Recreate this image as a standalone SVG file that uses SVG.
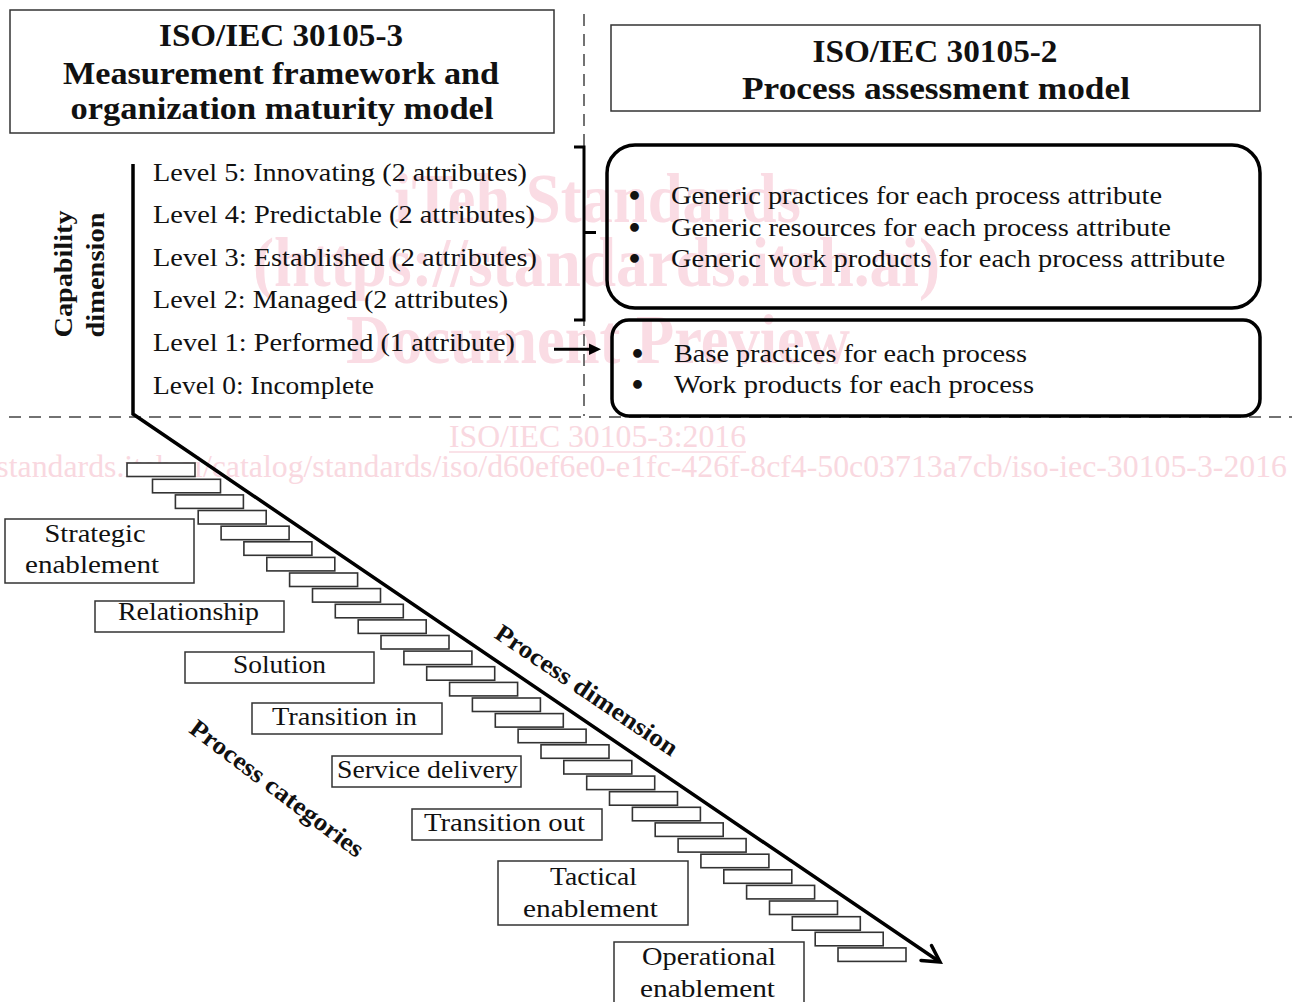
<svg xmlns="http://www.w3.org/2000/svg" width="1292" height="1002" viewBox="0 0 1292 1002">
<style>
  text { font-family: 'Liberation Serif', 'Times New Roman', serif; fill: #111; }
  .title { font-size: 31px; font-weight: bold; text-anchor: middle; }
  .lvl { font-size: 24.5px; }
  .bul { font-size: 25px; }
  .dot { font-family: 'DejaVu Sans', sans-serif; font-size: 25px; font-weight: bold; }
  .cat { font-size: 24.5px; text-anchor: middle; }
  .bold { font-size: 25px; font-weight: bold; text-anchor: middle; }
  .tbox { fill: #fff; stroke: #333; stroke-width: 1.5; }
  .rbox { fill: none; stroke: #000; stroke-width: 3.5; }
  .step { fill: #fff; stroke: #333; stroke-width: 1.6; }
  .cbox { fill: #fff; stroke: #333; stroke-width: 1.5; }
  .dash { fill: none; stroke: #444; stroke-width: 1.5; stroke-dasharray: 12 8; }
  .wm { fill: #fadce4; font-weight: bold; font-size: 70px; }
  .wm2 { fill: #f9d8e0; font-size: 31px; }
</style>

<g id="watermark">
  <text class="wm" x="394" y="222" textLength="407" lengthAdjust="spacingAndGlyphs">iTeh Standards</text>
  <text class="wm" x="253" y="286" textLength="687" lengthAdjust="spacingAndGlyphs">(https://standards.iteh.ai)</text>
  <text class="wm" x="346" y="363" textLength="504" lengthAdjust="spacingAndGlyphs">Document Preview</text>
  <text class="wm2" x="449" y="447" textLength="297" lengthAdjust="spacingAndGlyphs">ISO/IEC 30105-3:2016</text>
  <line x1="449" y1="452" x2="746" y2="452" stroke="#f9d8e0" stroke-width="1.5"/>
  <text class="wm2" x="-92" y="477" textLength="1379" lengthAdjust="spacingAndGlyphs">https://standards.iteh.ai/catalog/standards/iso/d60ef6e0-e1fc-426f-8cf4-50c03713a7cb/iso-iec-30105-3-2016</text>
</g>

<g id="separators">
  <line class="dash" x1="584" y1="14" x2="584" y2="416"/>
  <line class="dash" x1="9" y1="417" x2="1292" y2="417"/>
</g>

<g id="title-30105-3">
  <rect class="tbox" x="10" y="10" width="544" height="123"/>
  <text class="title" x="281" y="46" textLength="244" lengthAdjust="spacingAndGlyphs">ISO/IEC 30105-3</text>
  <text class="title" x="281" y="84" textLength="436" lengthAdjust="spacingAndGlyphs">Measurement framework and</text>
  <text class="title" x="282" y="119" textLength="423" lengthAdjust="spacingAndGlyphs">organization maturity model</text>
</g>

<g id="title-30105-2">
  <rect class="tbox" x="611" y="25" width="649" height="86"/>
  <text class="title" x="935" y="62" textLength="245" lengthAdjust="spacingAndGlyphs">ISO/IEC 30105-2</text>
  <text class="title" x="936" y="99" textLength="388" lengthAdjust="spacingAndGlyphs">Process assessment model</text>
</g>

<g id="capability-label">
  <text class="bold" transform="translate(72,274) rotate(-90)" textLength="127" lengthAdjust="spacingAndGlyphs">Capability</text>
  <text class="bold" transform="translate(104,275) rotate(-90)" textLength="125" lengthAdjust="spacingAndGlyphs">dimension</text>
</g>

<g id="levels">
  <text class="lvl" x="153" y="181" textLength="374" lengthAdjust="spacingAndGlyphs">Level 5: Innovating (2 attributes)</text>
  <text class="lvl" x="153" y="223" textLength="382" lengthAdjust="spacingAndGlyphs">Level 4: Predictable (2 attributes)</text>
  <text class="lvl" x="153" y="266" textLength="384" lengthAdjust="spacingAndGlyphs">Level 3: Established (2 attributes)</text>
  <text class="lvl" x="153" y="308" textLength="355" lengthAdjust="spacingAndGlyphs">Level 2: Managed (2 attributes)</text>
  <text class="lvl" x="153" y="351" textLength="362" lengthAdjust="spacingAndGlyphs">Level 1: Performed (1 attribute)</text>
  <text class="lvl" x="153" y="394" textLength="221" lengthAdjust="spacingAndGlyphs">Level 0: Incomplete</text>
</g>

<g id="generic-box">
  <rect class="rbox" x="607" y="145" width="653" height="163" rx="28" ry="28"/>
  <text class="dot" x="626.5" y="205">•</text>
  <text class="dot" x="626.5" y="237">•</text>
  <text class="dot" x="626.5" y="268">•</text>
  <text class="bul" x="671" y="204" textLength="491" lengthAdjust="spacingAndGlyphs">Generic practices for each process attribute</text>
  <text class="bul" x="671" y="236" textLength="500" lengthAdjust="spacingAndGlyphs">Generic resources for each process attribute</text>
  <text class="bul" x="671" y="267" textLength="554" lengthAdjust="spacingAndGlyphs">Generic work products for each process attribute</text>
</g>

<g id="base-box">
  <rect class="rbox" x="612" y="320" width="648" height="96" rx="17" ry="17"/>
  <text class="dot" x="629.5" y="363">•</text>
  <text class="dot" x="629.5" y="394">•</text>
  <text class="bul" x="674" y="362" textLength="353" lengthAdjust="spacingAndGlyphs">Base practices for each process</text>
  <text class="bul" x="674" y="393" textLength="360" lengthAdjust="spacingAndGlyphs">Work products for each process</text>
</g>

<g id="steps">
  <rect class="step" x="127" y="463" width="68" height="13.5"/>
  <rect class="step" x="152.5" y="479.3" width="68" height="13.5"/>
  <rect class="step" x="175.4" y="494.9" width="68" height="13.5"/>
  <rect class="step" x="198.2" y="510.5" width="68" height="13.5"/>
  <rect class="step" x="221.1" y="526.2" width="68" height="13.5"/>
  <rect class="step" x="243.9" y="541.8" width="68" height="13.5"/>
  <rect class="step" x="266.8" y="557.4" width="68" height="13.5"/>
  <rect class="step" x="289.6" y="573.0" width="68" height="13.5"/>
  <rect class="step" x="312.5" y="588.6" width="68" height="13.5"/>
  <rect class="step" x="335.3" y="604.3" width="68" height="13.5"/>
  <rect class="step" x="358.2" y="619.9" width="68" height="13.5"/>
  <rect class="step" x="381.0" y="635.5" width="68" height="13.5"/>
  <rect class="step" x="403.9" y="651.1" width="68" height="13.5"/>
  <rect class="step" x="426.7" y="666.7" width="68" height="13.5"/>
  <rect class="step" x="449.6" y="682.4" width="68" height="13.5"/>
  <rect class="step" x="472.4" y="698.0" width="68" height="13.5"/>
  <rect class="step" x="495.3" y="713.6" width="68" height="13.5"/>
  <rect class="step" x="518.1" y="729.2" width="68" height="13.5"/>
  <rect class="step" x="541.0" y="744.8" width="68" height="13.5"/>
  <rect class="step" x="563.8" y="760.5" width="68" height="13.5"/>
  <rect class="step" x="586.7" y="776.1" width="68" height="13.5"/>
  <rect class="step" x="609.5" y="791.7" width="68" height="13.5"/>
  <rect class="step" x="632.4" y="807.3" width="68" height="13.5"/>
  <rect class="step" x="655.2" y="822.9" width="68" height="13.5"/>
  <rect class="step" x="678.1" y="838.6" width="68" height="13.5"/>
  <rect class="step" x="700.9" y="854.2" width="68" height="13.5"/>
  <rect class="step" x="723.8" y="869.8" width="68" height="13.5"/>
  <rect class="step" x="746.6" y="885.4" width="68" height="13.5"/>
  <rect class="step" x="769.5" y="901.0" width="68" height="13.5"/>
  <rect class="step" x="792.3" y="916.7" width="68" height="13.5"/>
  <rect class="step" x="815.2" y="932.3" width="68" height="13.5"/>
  <rect class="step" x="838.0" y="947.9" width="68" height="13.5"/>
</g>

<g id="cat-strategic">
  <rect class="cbox" x="5" y="519" width="189" height="64"/>
  <text class="cat" x="95" y="542" textLength="101" lengthAdjust="spacingAndGlyphs">Strategic</text>
  <text class="cat" x="92" y="573" textLength="134" lengthAdjust="spacingAndGlyphs">enablement</text>
</g>
<g id="cat-relationship">
  <rect class="cbox" x="95" y="601" width="189" height="31"/>
  <text class="cat" x="188.5" y="620" textLength="141" lengthAdjust="spacingAndGlyphs">Relationship</text>
</g>
<g id="cat-solution">
  <rect class="cbox" x="185" y="652" width="189" height="31"/>
  <text class="cat" x="279.5" y="673" textLength="93" lengthAdjust="spacingAndGlyphs">Solution</text>
</g>
<g id="cat-transition-in">
  <rect class="cbox" x="252" y="703" width="190" height="31"/>
  <text class="cat" x="344.5" y="725" textLength="145" lengthAdjust="spacingAndGlyphs">Transition in</text>
</g>
<g id="cat-service-delivery">
  <rect class="cbox" x="332" y="756" width="189" height="31"/>
  <text class="cat" x="427.5" y="778" textLength="181" lengthAdjust="spacingAndGlyphs">Service delivery</text>
</g>
<g id="cat-transition-out">
  <rect class="cbox" x="412" y="809" width="190" height="31"/>
  <text class="cat" x="504.5" y="831" textLength="161" lengthAdjust="spacingAndGlyphs">Transition out</text>
</g>
<g id="cat-tactical">
  <rect class="cbox" x="498" y="861" width="190" height="64"/>
  <text class="cat" x="593.5" y="885" textLength="87" lengthAdjust="spacingAndGlyphs">Tactical</text>
  <text class="cat" x="590.5" y="917" textLength="135" lengthAdjust="spacingAndGlyphs">enablement</text>
</g>
<g id="cat-operational">
  <rect class="cbox" x="614" y="942" width="190" height="66"/>
  <text class="cat" x="709" y="965" textLength="134" lengthAdjust="spacingAndGlyphs">Operational</text>
  <text class="cat" x="707.5" y="997" textLength="135" lengthAdjust="spacingAndGlyphs">enablement</text>
</g>

<g id="axis-labels">
  <text class="bold" transform="translate(582,697) rotate(34)" textLength="215" lengthAdjust="spacingAndGlyphs">Process dimension</text>
  <text class="bold" transform="translate(272,795) rotate(37)" textLength="211" lengthAdjust="spacingAndGlyphs">Process categories</text>
</g>

<g id="connectors" fill="none" stroke="#000">
  <polyline points="133,164 133,414 937,960" stroke-width="3.5" stroke-linejoin="miter"/>
  <polyline points="921,960.5 940,962 931.5,945.5" stroke-width="3.5" stroke-linejoin="miter" stroke-linecap="round"/>
  <path d="M574,147 H584 V320 H574 M584,232.5 H596" stroke-width="3"/>
  <line x1="554" y1="349.3" x2="590" y2="349.3" stroke-width="3"/>
  <polygon points="589,343.5 601,349.3 589,355" fill="#000" stroke="none"/>
</g>
</svg>
